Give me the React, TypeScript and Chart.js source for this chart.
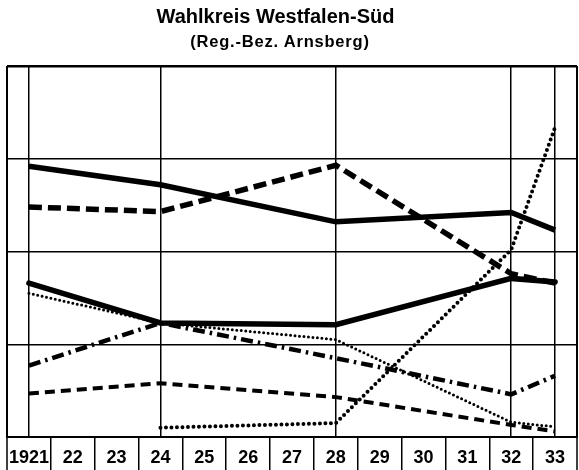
import React, { useEffect, useRef } from "react";
import { Chart, registerables } from "chart.js";

Chart.register(...registerables);

// Election years (x positions on the time axis)
const years = [1921, 1924, 1928, 1932, 1933];
// Year labels shown in the bottom row
const yearLabels = ["1921", "22", "23", "24", "25", "26", "27", "28", "29", "30", "31", "32", "33"];
// Years with a vertical grid line in the plot
const gridYears = [1921, 1924, 1928, 1932, 1933];

// Vote shares (%) per series
const zentrum = [29.2, 27.2, 23.2, 24.2, 22.3];
const spd = [24.8, 24.3, 29.3, 17.6, 16.6];
const kpd = [16.6, 12.3, 12.1, 17.1, 16.7];
const dvp = [15.5, 12.3, 10.5, 1.6, 1.1];
const dnvp = [7.7, 12.3, 8.5, 4.6, 6.6];
const ddp = [4.7, 5.8, 4.3, 1.3, 0.6];
const nsdap = [null, 1.0, 1.5, 20.2, 33.4];

const titleText = "Wahlkreis Westfalen-Süd";
const subtitleText = "(Reg.-Bez. Arnsberg)";

const toPoints = (vals: (number | null)[]) =>
  years
    .map((x, i) => ({ x, y: vals[i] }))
    .filter((p) => p.y !== null) as { x: number; y: number }[];

const font = "'Liberation Sans', Arial, Helvetica, sans-serif";

export default function App() {
  const ref = useRef<HTMLCanvasElement | null>(null);

  useEffect(() => {
    document.body.style.margin = "0";
    if (!ref.current) return;
    const tickValues: number[] = [];
    for (let v = 1920.5; v <= 1933.5 + 1e-9; v += 0.5) tickValues.push(v);
    const isInt = (v: number) => Math.abs(v - Math.round(v)) < 1e-6;
    const isEdge = (v: number) => Math.abs(v - 1920.5) < 1e-6 || Math.abs(v - 1933.5) < 1e-6;

    const base = {
      borderColor: "#000",
      backgroundColor: "#000",
      pointRadius: 0,
      tension: 0,
      fill: false,
    };

    const chart = new Chart(ref.current, {
      type: "line",
      data: {
        datasets: [
          { ...base, label: "Zentrum", data: toPoints(zentrum), borderWidth: 5.5 },
          { ...base, label: "SPD", data: toPoints(spd), borderWidth: 5.5, borderDash: [13, 6] },
          { ...base, label: "KPD", data: toPoints(kpd), borderWidth: 5.5, borderCapStyle: "round" },
          { ...base, label: "DVP", data: toPoints(dvp), borderWidth: 3, borderDash: [0, 4.5], borderCapStyle: "round" },
          { ...base, label: "DNVP", data: toPoints(dnvp), borderWidth: 4.5, borderDash: [12, 5, 2.5, 5] },
          { ...base, label: "DDP", data: toPoints(ddp), borderWidth: 4, borderDash: [10, 6] },
          { ...base, label: "NSDAP", data: toPoints(nsdap), borderWidth: 4, borderDash: [0, 5.5], borderCapStyle: "round" },
        ] as any,
      },
      options: {
        animation: false,
        responsive: false,
        layout: { padding: { left: 7, right: 2, top: 66, bottom: 0 } },
        plugins: {
          legend: { display: false },
          tooltip: { enabled: false },
          title: { display: false },
        },
        scales: {
          x: {
            type: "linear",
            min: 1920.5,
            max: 1933.5,
            afterBuildTicks: (scale: any) => {
              scale.ticks = tickValues.map((v) => ({ value: v }));
            },
            afterFit: (scale: any) => {
              scale.height = 33;
            },
            ticks: {
              autoSkip: false,
              maxRotation: 0,
              minRotation: 0,
              color: "#000",
              padding: -23,
              font: { family: font, size: 18, weight: "bold" },
              callback: (value: any) => {
                const v = Number(value);
                if (!isInt(v)) return "";
                const idx = Math.round(v) - 1921;
                return yearLabels[idx] ?? "";
              },
            },
            grid: {
              drawTicks: true,
              tickLength: 33,
              color: (ctx: any) => {
                const v = ctx.tick ? ctx.tick.value : NaN;
                if (isEdge(v)) return "#000";
                return gridYears.some((g) => Math.abs(g - v) < 1e-6) ? "#000" : "rgba(0,0,0,0)";
              },
              tickColor: (ctx: any) => {
                const v = ctx.tick ? ctx.tick.value : NaN;
                return isInt(v) ? "rgba(0,0,0,0)" : "#000";
              },
              lineWidth: (ctx: any) => {
                const v = ctx.tick ? ctx.tick.value : NaN;
                return isEdge(v) ? 2 : 1.5;
              },
              tickWidth: 1.5,
            },
            border: { display: true, color: "#000", width: 2 },
          },
          y: {
            min: 0,
            max: 40,
            ticks: { display: false, stepSize: 10 },
            grid: {
              drawTicks: false,
              color: "#000",
              lineWidth: (ctx: any) => (ctx.tick && ctx.tick.value === 40 ? 2.5 : 1.5),
            },
            border: { display: false },
          },
        },
      } as any,
    });
    return () => chart.destroy();
  }, []);

  return (
    <div style={{ position: "relative", width: 579, height: 470 }}>
      <canvas ref={ref} width={579} height={470} style={{ display: "block" }} />
      <div
        style={{
          position: "absolute",
          left: 0,
          width: 551,
          top: 6,
          textAlign: "center",
          fontFamily: font,
          fontWeight: "bold",
          fontSize: 20,
          lineHeight: "20px",
          color: "#000",
          whiteSpace: "nowrap",
        }}
      >
        {titleText}
      </div>
      <div
        style={{
          position: "absolute",
          left: 0,
          width: 560,
          top: 33,
          textAlign: "center",
          fontFamily: font,
          fontWeight: "bold",
          fontSize: 16.5,
          lineHeight: "16.5px",
          letterSpacing: "0.8px",
          color: "#000",
          whiteSpace: "nowrap",
        }}
      >
        {subtitleText}
      </div>
    </div>
  );
}
